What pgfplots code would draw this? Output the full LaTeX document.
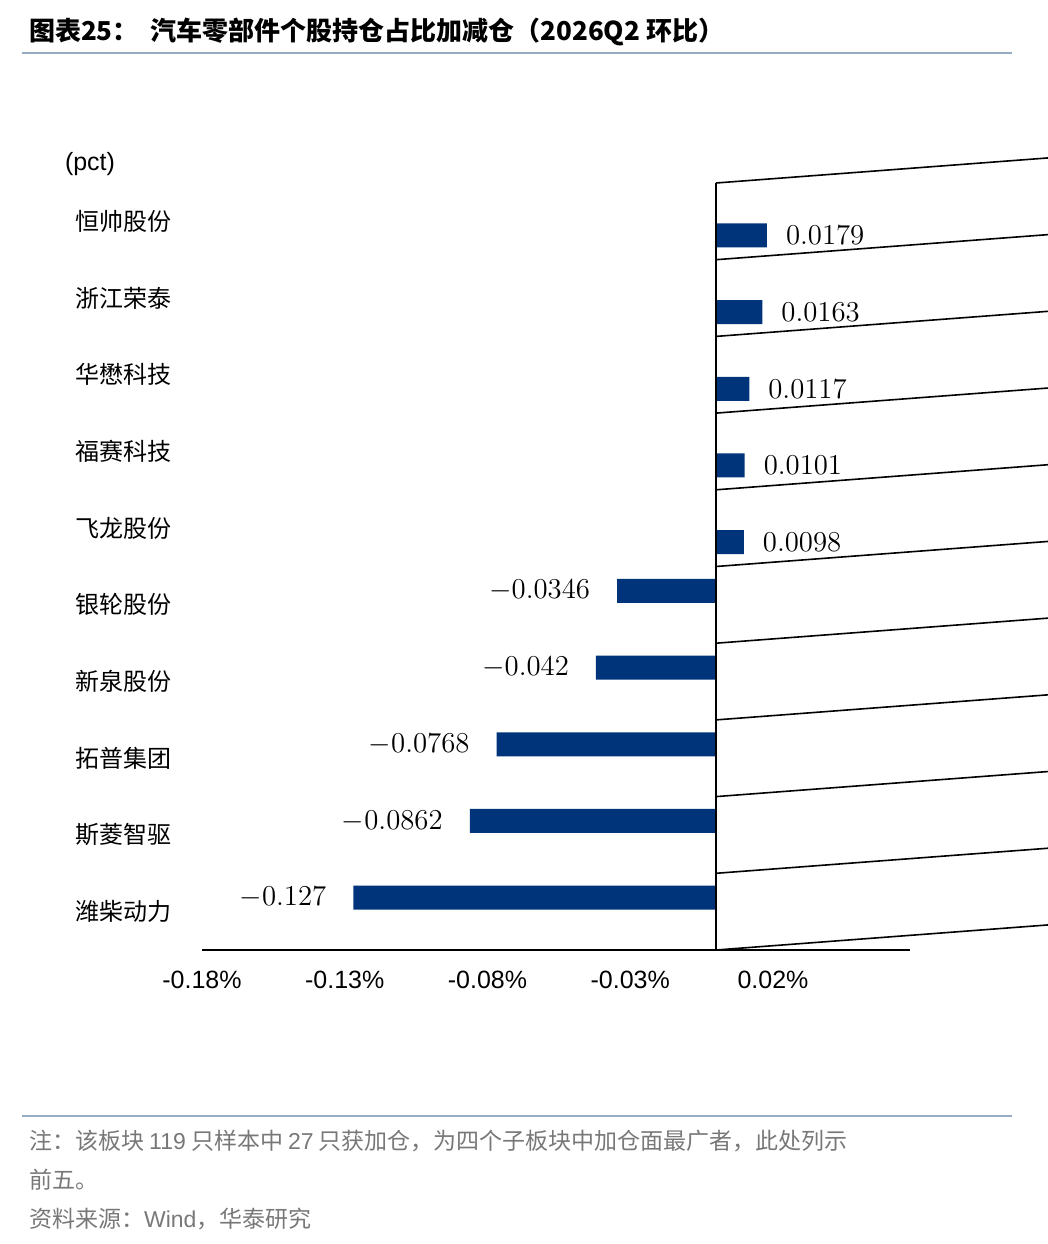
\documentclass[border=0pt]{standalone}
\usepackage{pgfplots}
\pgfplotsset{compat=1.18}
\usepackage{fontspec}
\setmainfont{Liberation Sans}
\newfontfamily\cjk{Noto Sans CJK SC}
\definecolor{bar}{RGB}{0,52,122}
\definecolor{rule}{RGB}{150,172,196}
\definecolor{note}{RGB}{120,120,120}
\begin{document}
\begin{tikzpicture}[x=1pt,y=1pt]
\path[use as bounding box] (0,0) rectangle (524,-622);
\node[anchor=west,font=\cjk\bfseries\fontsize{13}{15}\selectfont] at (11,-16) {图表\textbf{25}：\ \ 汽车零部件个股持仓占比加减仓（\textbf{2026Q2} 环比）};
\draw[rule,line width=1pt] (11,-26.5) -- (506,-26.5);
\node[font=\fontsize{12.5}{14}\selectfont] at (45,-82) {(pct)};
\begin{axis}[at={(101pt,-475pt)},anchor=south west,scale only axis,
 width=354pt,height=383.5pt,
 xmin=-0.18,xmax=0.068,ymin=-0.5,ymax=9.5,
 axis x line=bottom, axis y line=none,
 axis line style={black,line width=0.8pt,-},
 xtick={-0.18,-0.13,-0.08,-0.03,0.02},
 xticklabels={-0.18\%,-0.13\%,-0.08\%,-0.03\%,0.02\%},
 major tick length=0pt,
 xticklabel style={font=\fontsize{12.5}{14}\selectfont,yshift=-7pt},
 xbar,bar width=12pt,
 nodes near coords,
 nodes near coords style={font=\fontsize{13.5}{15}\selectfont,/pgf/number format/fixed,/pgf/number format/precision=4},
 clip=false]
\addplot[fill=bar,draw=none,nodes near coords style={anchor=west,xshift=6pt}] coordinates {(0.0179,9) (0.0163,8) (0.0117,7) (0.0101,6) (0.0098,5)};
\addplot[fill=bar,draw=none,nodes near coords style={anchor=east,xshift=-10pt}] coordinates {(-0.0346,4) (-0.042,3) (-0.0768,2) (-0.0862,1) (-0.127,0)};
\draw[black,line width=0.8pt] (axis cs:0,-0.5) -- (axis cs:0,9.5);
\pgfplotsinvokeforeach{-0.5,0.5,1.5,2.5,3.5,4.5,5.5,6.5,7.5,8.5,9.5}{\draw[black,line width=0.8pt] (axis cs:0,#1) -- ++(-3pt,0);}
\begin{scope}[every node/.style={anchor=west,xshift=-67pt,font=\cjk\fontsize{12}{14}\selectfont}]
\node at (axis cs:-0.18,0) {潍柴动力};
\node at (axis cs:-0.18,1) {斯菱智驱};
\node at (axis cs:-0.18,2) {拓普集团};
\node at (axis cs:-0.18,3) {新泉股份};
\node at (axis cs:-0.18,4) {银轮股份};
\node at (axis cs:-0.18,5) {飞龙股份};
\node at (axis cs:-0.18,6) {福赛科技};
\node at (axis cs:-0.18,7) {华懋科技};
\node at (axis cs:-0.18,8) {浙江荣泰};
\node at (axis cs:-0.18,9) {恒帅股份};
\end{scope}
\end{axis}
\draw[rule,line width=1pt] (11,-558) -- (506,-558);
\begin{scope}[every node/.style={anchor=west,text=note,font=\cjk\fontsize{11.5}{13}\selectfont}]
\node at (11,-570.5) {注：该板块 {\fontspec{Liberation Sans}119} 只样本中 {\fontspec{Liberation Sans}27} 只获加仓，为四个子板块中加仓面最广者，此处列示};
\node at (11,-590) {前五。};
\node at (11,-609.5) {资料来源：{\fontspec{Liberation Sans}Wind}，华泰研究};
\end{scope}
\end{tikzpicture}
\end{document}
